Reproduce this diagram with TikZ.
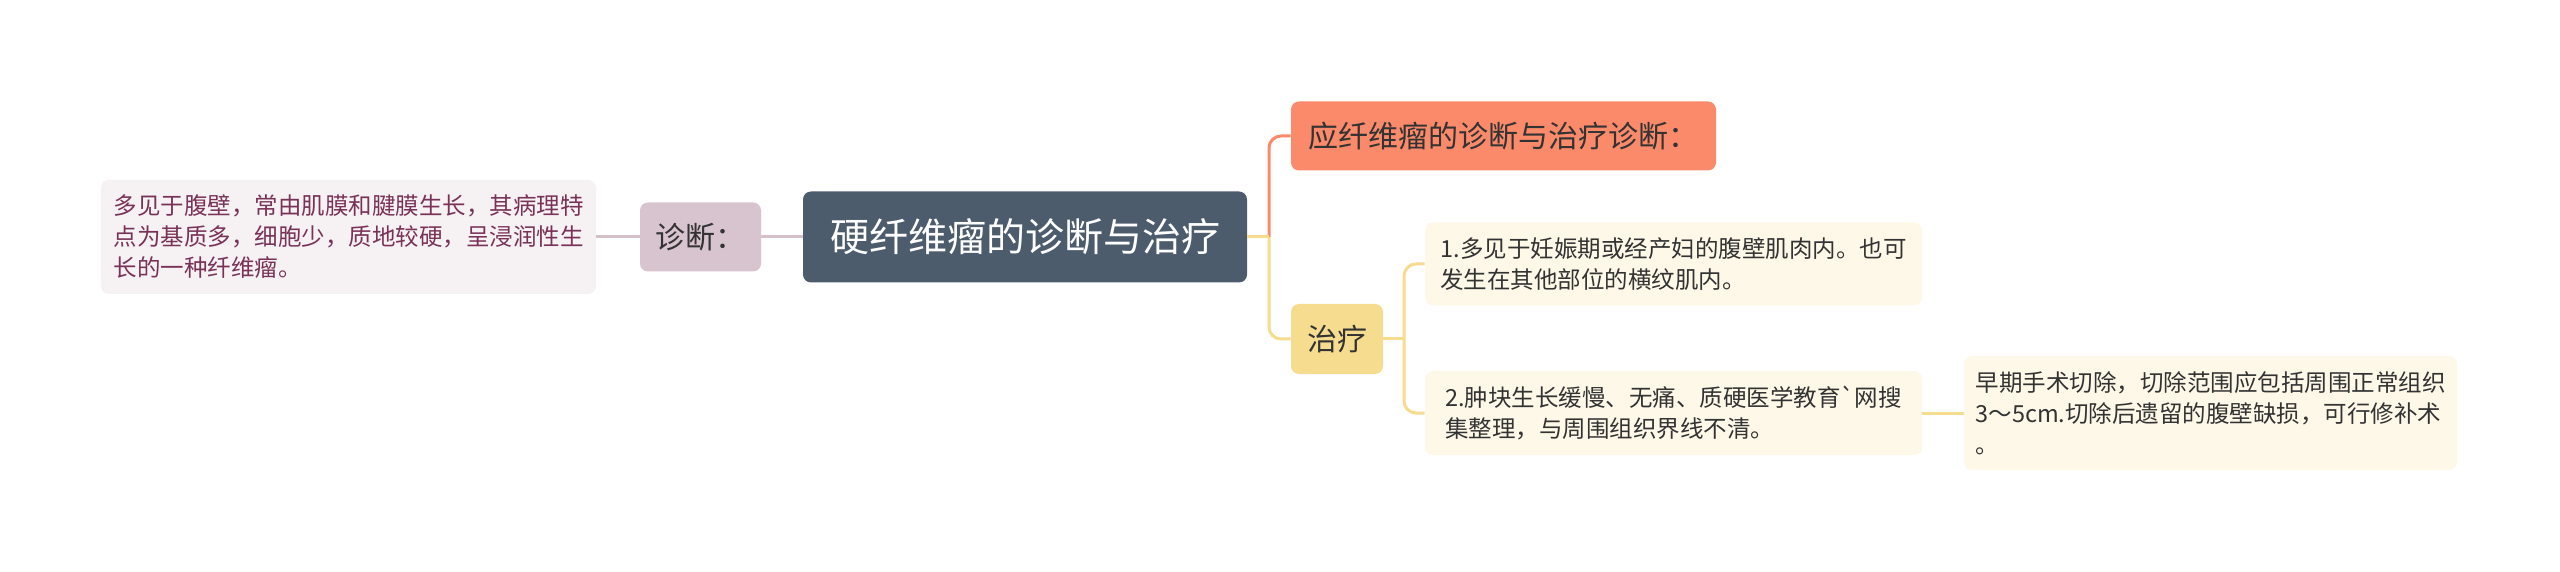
\documentclass[tikz,border=0pt]{standalone}
\usepackage{fontspec}
\setmainfont{Noto Sans CJK SC}
\usetikzlibrary{positioning}
\definecolor{rootfill}{HTML}{4D5C6D}
\definecolor{orangefill}{HTML}{FA8A6A}
\definecolor{yellowfill}{HTML}{F6DC8E}
\definecolor{creamfill}{HTML}{FEF8E8}
\definecolor{mauvefill}{HTML}{D8C4CE}
\definecolor{palefill}{HTML}{F6F1F3}
\definecolor{maroontext}{HTML}{7A3358}
\definecolor{pinkline}{HTML}{D6C1CB}
\definecolor{darktext}{HTML}{333333}
\tikzset{
  box/.style={rounded corners=4pt, inner sep=0pt, align=left, text=darktext},
  leaftext/.style={font=\fontsize{11.75pt}{15.5pt}\selectfont},
  midtext/.style={font=\fontsize{15pt}{18pt}\selectfont},
  conn/.style={line width=1.5pt, rounded corners=6pt},
}
\begin{document}
\begin{tikzpicture}[x=0.5pt, y=-0.5pt]
\useasboundingbox[fill=white] (0,0) rectangle (2560,572);
% centre
\node[box, fill=rootfill, text=white, font=\fontsize{19.5pt}{22pt}\selectfont,
  minimum width=222pt, minimum height=45.5pt] (title) at (1025,237) {硬纤维瘤的诊断与治疗};
% left side
\node[box, midtext, fill=mauvefill, minimum width=60.5pt, minimum height=34.5pt] (zhenduan) at (700.5,237) {诊断：};
\node[box, leaftext, fill=palefill, text=maroontext, minimum width=247.5pt, minimum height=57pt] (zdtext) at (348.5,237)
  {多见于腹壁，常由肌膜和腱膜生长，其病理特\\点为基质多，细胞少，质地较硬，呈浸润性生\\长的一种纤维瘤。};
% right side
\node[box, midtext, fill=orangefill, minimum width=212.5pt, minimum height=34.5pt] (yingbox) at (1503.5,136) {应纤维瘤的诊断与治疗诊断：};
\node[box, midtext, fill=yellowfill, minimum width=46pt, minimum height=35pt] (zhiliao) at (1337,339) {治疗};
\node[box, leaftext, fill=creamfill, minimum width=248.5pt, minimum height=41.5pt] (zl1) at (1673.5,264)
  {1.多见于妊娠期或经产妇的腹壁肌肉内。也可\\发生在其他部位的横纹肌内。};
\node[box, leaftext, fill=creamfill, minimum width=248.5pt, minimum height=42pt] (zl2) at (1673.5,413)
  {2.肿块生长缓慢、无痛、质硬医学教育\textasciigrave 网搜\\集整理，与周围组织界线不清。};
\node[box, leaftext, fill=creamfill, minimum width=246.5pt, minimum height=57pt] (zl3) at (2210.5,413)
  {早期手术切除，切除范围应包括周围正常组织\\3～5cm.切除后遗留的腹壁缺损，可行修补术\\。};
% connectors
\coordinate (fork) at (1269,237);
\coordinate (fork2) at (1404,339);
\draw[conn, pinkline] (title.west) -- (zhenduan.east);
\draw[conn, pinkline] (zhenduan.west) -- (zdtext.east);
\draw[conn, orangefill] (fork) |- (yingbox.west);
\draw[conn, yellowfill] (fork) |- (zhiliao.west);
\draw[conn, yellowfill] (title.east) -- (fork);
\draw[conn, yellowfill] (zhiliao.east) -- (fork2);
\draw[conn, yellowfill] (fork2) |- (zl1.west);
\draw[conn, yellowfill] (fork2) |- (zl2.west);
\draw[conn, yellowfill] (zl2.east) -- (zl3.west);
\end{tikzpicture}
\end{document}
